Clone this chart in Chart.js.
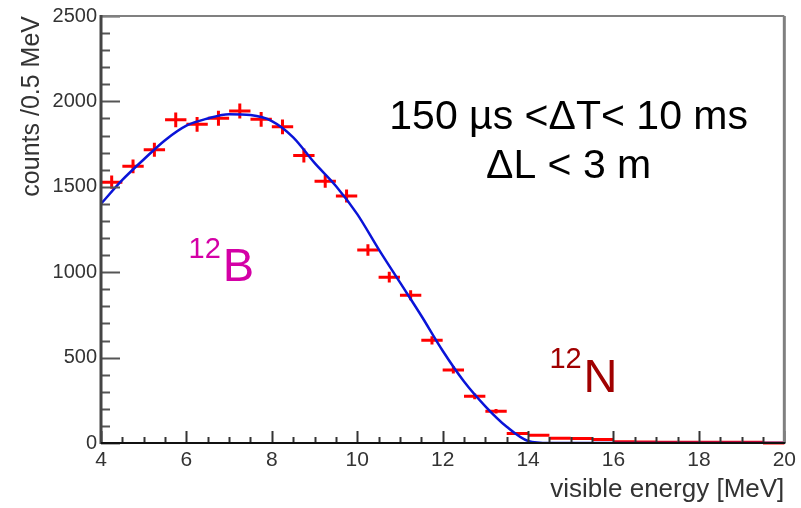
<!DOCTYPE html>
<html>
<head>
<meta charset="utf-8">
<script src="https://cdn.jsdelivr.net/npm/chart.js@4/dist/chart.umd.min.js"></script>
<style>
  body { margin: 0; background: #fff; }
  #wrap { width: 801px; height: 508px; }
</style>
</head>
<body>
<div id="wrap"><canvas id="c" width="801" height="508"></canvas></div>
<script>
// histogram bins (0.5 MeV wide)
const binCenters = [4.25, 4.75, 5.25, 5.75, 6.25, 6.75, 7.25, 7.75, 8.25, 8.75,
  9.25, 9.75, 10.25, 10.75, 11.25, 11.75, 12.25, 12.75, 13.25, 13.75,
  14.25, 14.75, 15.25, 15.75, 16.25, 16.75, 17.25, 17.75, 18.25, 18.75, 19.25, 19.75];
const counts = [1527, 1620, 1717, 1892, 1866, 1901, 1944, 1895, 1851, 1683,
  1533, 1446, 1130, 971, 865, 601, 428, 273, 186, 55,
  45, 28, 26, 20, 7, 6, 5, 5, 4, 5, 4, 0];

// fitted curve
const fitEnergy = [4, 4.5, 5, 5.5, 6, 6.5, 7, 7.5, 8, 8.5, 9, 9.5, 10, 10.5, 11,
  11.5, 12, 12.5, 13, 13.5, 14, 14.5, 15, 16, 17, 18, 19, 20];
const fitCounts = [1400, 1540, 1660, 1773, 1858, 1900, 1925, 1920, 1885, 1790, 1640,
  1505, 1340, 1135, 940, 745, 540, 360, 215, 95, 12, 0, 0, 0, 0, 0, 0, 0];

const xTicks = [4, 6, 8, 10, 12, 14, 16, 18, 20];
const yTicks = [0, 500, 1000, 1500, 2000, 2500];

const histPoints = binCenters.map((e, i) => ({ x: e, y: counts[i] }));
const fitPoints = fitEnergy.map((e, i) => ({ x: e, y: fitCounts[i] }));

const FONT = '"Liberation Sans", Arial, sans-serif';

// crosses: +-0.25 MeV horizontally, +-sqrt(N) vertically
const errorBars = {
  id: 'errorBars',
  beforeDatasetsDraw(chart) {
    const { ctx, scales: { x, y } } = chart;
    ctx.save();
    ctx.strokeStyle = '#ff0000';
    ctx.lineWidth = 3;
    histPoints.forEach(p => {
      const px = x.getPixelForValue(p.x);
      const py = y.getPixelForValue(p.y);
      ctx.beginPath();
      ctx.moveTo(x.getPixelForValue(p.x - 0.25), py);
      ctx.lineTo(x.getPixelForValue(p.x + 0.25), py);
      const err = Math.sqrt(p.y);
      if (err > 0) {
        ctx.moveTo(px, y.getPixelForValue(p.y - err));
        ctx.lineTo(px, y.getPixelForValue(p.y + err));
      }
      ctx.stroke();
    });
    ctx.restore();
  }
};

// ROOT-like frame with inner ticks
const frame = {
  id: 'frame',
  afterDatasetsDraw(chart) {
    const { ctx, chartArea: a, scales: { x, y } } = chart;
    ctx.save();
    ctx.lineCap = 'butt';
    ctx.strokeStyle = '#555';
    ctx.lineWidth = 2;
    for (let v = 0; v <= 2500; v += 100) {
      const py = Math.round(y.getPixelForValue(v)) + 0.5;
      const len = v % 500 === 0 ? 19 : 9;
      ctx.beginPath();
      ctx.moveTo(a.left, py);
      ctx.lineTo(a.left + len, py);
      ctx.stroke();
    }
    ctx.strokeStyle = '#333';
    for (let v = 4; v <= 20; v += 0.5) {
      const px = Math.round(x.getPixelForValue(v)) + 0.5;
      const len = v % 2 === 0 ? 12 : 6;
      ctx.beginPath();
      ctx.moveTo(px, a.bottom);
      ctx.lineTo(px, a.bottom - len);
      ctx.stroke();
    }
    ctx.strokeStyle = '#808080';
    ctx.lineWidth = 2;
    ctx.beginPath();
    ctx.moveTo(a.left, a.top);
    ctx.lineTo(a.right, a.top);
    ctx.stroke();
    ctx.lineWidth = 3;
    ctx.beginPath();
    ctx.moveTo(a.right, a.top);
    ctx.lineTo(a.right, a.bottom);
    ctx.stroke();
    ctx.strokeStyle = '#444';
    ctx.lineWidth = 3;
    ctx.beginPath();
    ctx.moveTo(a.left, a.top - 1);
    ctx.lineTo(a.left, a.bottom + 1);
    ctx.stroke();
    ctx.strokeStyle = '#111';
    ctx.lineWidth = 2;
    ctx.beginPath();
    ctx.moveTo(a.left, a.bottom);
    ctx.lineTo(a.right + 1, a.bottom);
    ctx.stroke();
    ctx.restore();
  }
};

// text labels, anchored in data coordinates
const labels = {
  id: 'labels',
  afterDraw(chart) {
    const { ctx, scales: { x, y } } = chart;
    ctx.save();
    ctx.textBaseline = 'alphabetic';
    ctx.fillStyle = '#000';
    ctx.textAlign = 'center';
    ctx.font = '41px ' + FONT;
    ctx.fillText('150 \u00b5s <\u0394T< 10 ms', x.getPixelForValue(14.95), y.getPixelForValue(1840));
    ctx.fillText('\u0394L < 3 m', x.getPixelForValue(14.95), y.getPixelForValue(1550));

    ctx.textAlign = 'left';
    ctx.fillStyle = '#d400a6';
    ctx.font = '29px ' + FONT;
    ctx.fillText('12', x.getPixelForValue(6.05), y.getPixelForValue(1085));
    ctx.font = '47px ' + FONT;
    ctx.fillText('B', x.getPixelForValue(6.85), y.getPixelForValue(948));
    ctx.fillStyle = '#a00000';
    ctx.font = '29px ' + FONT;
    ctx.fillText('12', x.getPixelForValue(14.5), y.getPixelForValue(440));
    ctx.font = '47px ' + FONT;
    ctx.fillText('N', x.getPixelForValue(15.3), y.getPixelForValue(300));
    ctx.restore();
  }
};

new Chart(document.getElementById('c'), {
  type: 'scatter',
  data: {
    datasets: [
      {
        label: 'data',
        data: histPoints,
        pointRadius: 0,
        showLine: false
      },
      {
        label: 'fit',
        type: 'line',
        data: fitPoints,
        borderColor: '#0a14d8',
        borderWidth: 2.5,
        pointRadius: 0,
        fill: false,
        cubicInterpolationMode: 'monotone'
      }
    ]
  },
  options: {
    responsive: false,
    animation: false,
    layout: { padding: { top: 12, right: 16, left: 0, bottom: 0 } },
    plugins: { legend: { display: false }, tooltip: { enabled: false } },
    scales: {
      x: {
        type: 'linear',
        min: 4,
        max: 20,
        afterFit(scale) { scale.height = 65; },
        afterBuildTicks(scale) { scale.ticks = xTicks.map(v => ({ value: v })); },
        grid: { display: false, drawTicks: false },
        border: { display: false },
        ticks: {
          padding: 5,
          color: '#333',
          maxRotation: 0,
          callback: v => String(v),
          font: { family: FONT, size: 21 }
        },
        title: {
          display: true,
          text: 'visible energy [MeV]',
          align: 'end',
          color: '#333',
          padding: { top: 0, bottom: 3 },
          font: { family: FONT, size: 26 }
        }
      },
      y: {
        min: 0,
        max: 2500,
        afterFit(scale) { scale.width = 101; },
        afterBuildTicks(scale) { scale.ticks = yTicks.map(v => ({ value: v })); },
        grid: { display: false, drawTicks: false },
        border: { display: false },
        ticks: {
          padding: 4,
          color: '#333',
          callback: v => String(v),
          font: { family: FONT, size: 20 }
        },
        title: {
          display: true,
          text: 'counts /0.5 MeV',
          align: 'end',
          color: '#333',
          padding: { top: 17, bottom: 0 },
          font: { family: FONT, size: 25 }
        }
      }
    }
  },
  plugins: [errorBars, frame, labels]
});
</script>
</body>
</html>
